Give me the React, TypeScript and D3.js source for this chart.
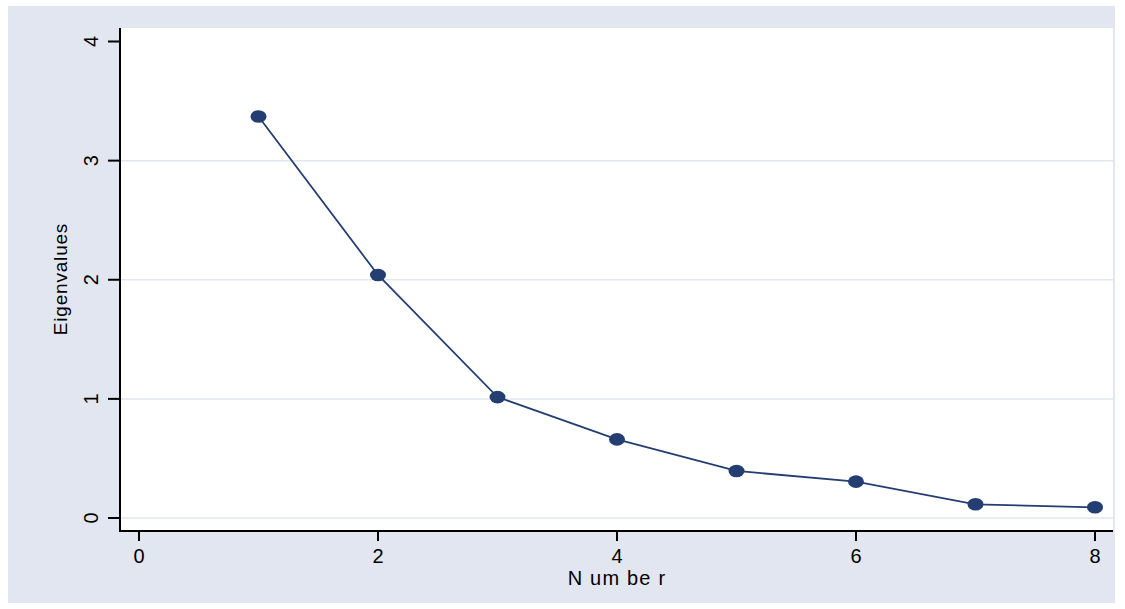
import React from 'react';
import * as d3 from 'd3';

// scree plot data
const components = [1, 2, 3, 4, 5, 6, 7, 8];
const eigenvalues = [3.37, 2.04, 1.015, 0.66, 0.395, 0.305, 0.115, 0.09];
const xTicks = [0, 2, 4, 6, 8];
const yTicks = [0, 1, 2, 3, 4];
const gridValues = [0, 1, 2, 3];

const W = 1125, H = 609;
const plot = { left: 120, right: 1113, top: 28, bottom: 531 };
const navy = '#243e72';
const font = 'Arial, "Liberation Sans", Helvetica, sans-serif';

export default function App() {
  const x = d3.scaleLinear().domain([0, 8]).range([139, 1095]);
  const y = d3.scaleLinear().domain([0, 4]).range([518, 41.5]);

  const line = d3.line<number>()
    .x((d, i) => x(components[i]))
    .y(d => y(d));

  return (
    <svg width={W} height={H} style={{ position: 'absolute', left: 0, top: 0 }}
      fontFamily={font}>
      <rect x={0} y={0} width={W} height={H} fill="#fff" />
      <rect x={8} y={6} width={1107} height={597} fill="#e2e6f0" />
      <rect x={plot.left} y={plot.top} width={plot.right - plot.left}
        height={plot.bottom - plot.top} fill="#fff" />

      {/* grid */}
      {gridValues.map(v => (
        <line key={v} x1={plot.left} x2={plot.right} y1={y(v)} y2={y(v)}
          stroke="#e1e6f1" strokeWidth={1.5} />
      ))}

      {/* axes */}
      <line x1={plot.left} x2={plot.left} y1={plot.top} y2={plot.bottom + 1}
        stroke="#000" strokeWidth={2} />
      <line x1={plot.left - 1} x2={plot.right} y1={plot.bottom} y2={plot.bottom}
        stroke="#000" strokeWidth={2} />

      {yTicks.map(t => (
        <g key={t}>
          <line x1={108} x2={plot.left} y1={y(t)} y2={y(t)} stroke="#000" strokeWidth={2} />
          <text transform={`translate(97.5,${y(t)}) rotate(-90)`} textAnchor="middle"
            fontSize={20}>{t}</text>
        </g>
      ))}

      {xTicks.map(t => (
        <g key={t}>
          <line x1={x(t)} x2={x(t)} y1={plot.bottom} y2={541} stroke="#000" strokeWidth={2} />
          <text x={x(t)} y={562.5} textAnchor="middle" fontSize={20}>{t}</text>
        </g>
      ))}

      <text x={x(4)} y={584.5} textAnchor="middle" fontSize={20} letterSpacing={1.2}>N um be r</text>
      <text transform={`translate(67,279) rotate(-90)`} textAnchor="middle"
        fontSize={19} letterSpacing={0.8}>Eigenvalues</text>

      {/* series */}
      <path d={line(eigenvalues) || ''} fill="none" stroke={navy} strokeWidth={1.8} />
      {eigenvalues.map((v, i) => (
        <ellipse key={i} cx={x(components[i])} cy={y(v)} rx={8} ry={6.3} fill={navy} />
      ))}
    </svg>
  );
}
